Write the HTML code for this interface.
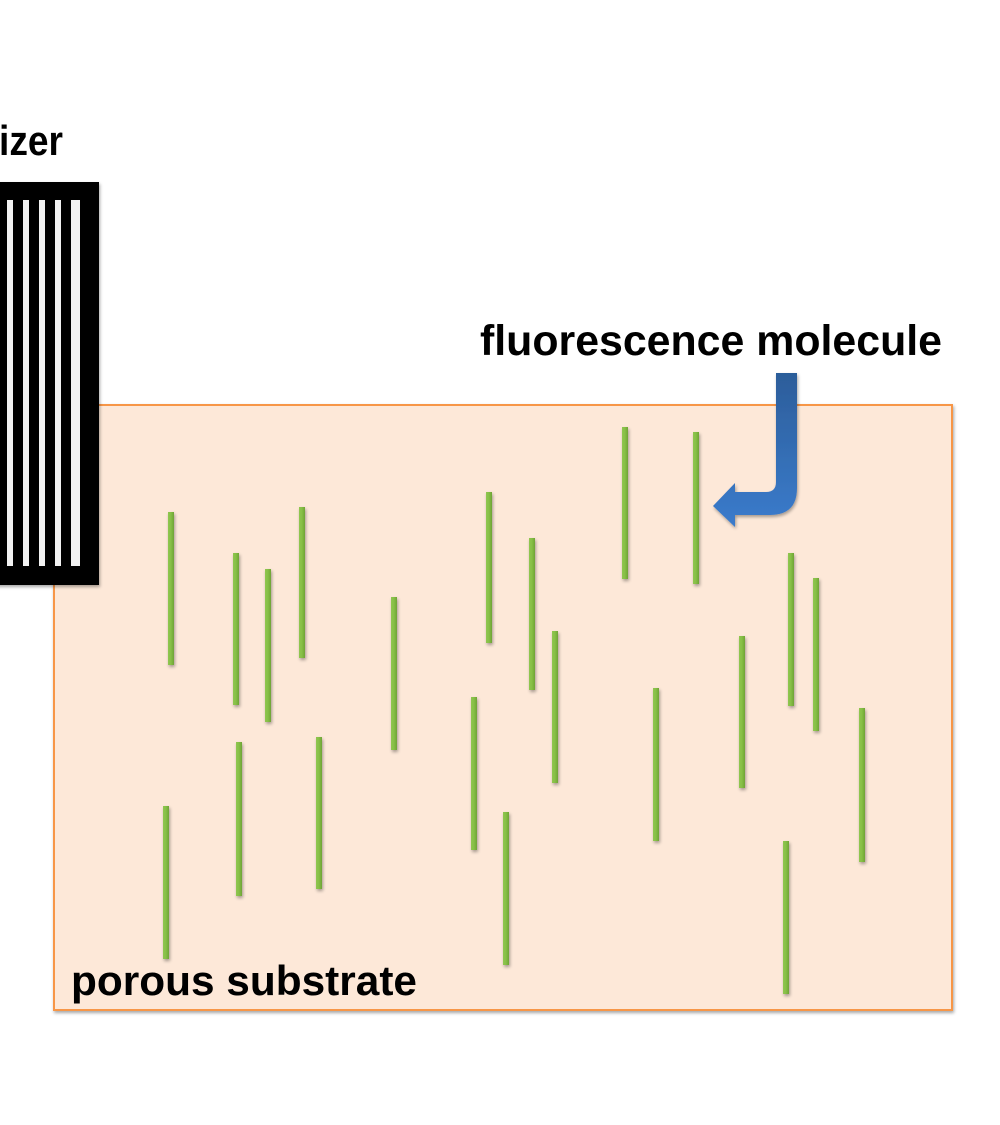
<!DOCTYPE html>
<html>
<head>
<meta charset="utf-8">
<style>
  html, body { margin: 0; padding: 0; background: #ffffff; }
  body { width: 1000px; height: 1125px; overflow: hidden; }
  svg { display: block; }
  text { font-family: "Liberation Sans", "DejaVu Sans", sans-serif; font-weight: bold; fill: #000; }
</style>
</head>
<body>
<svg width="1000" height="1125" viewBox="0 0 1000 1125" xmlns="http://www.w3.org/2000/svg">
  <defs>
    <linearGradient id="rod" x1="0" y1="0" x2="1" y2="0">
      <stop offset="0" stop-color="#8fc651"/>
      <stop offset="0.5" stop-color="#86bf45"/>
      <stop offset="1" stop-color="#6fa336"/>
    </linearGradient>
    <linearGradient id="arrowg" x1="0" y1="0" x2="0" y2="1">
      <stop offset="0" stop-color="#2c5d9a"/>
      <stop offset="0.6" stop-color="#3570b8"/>
      <stop offset="1" stop-color="#3b7bcc"/>
    </linearGradient>
    <filter id="sh" x="-20%" y="-20%" width="140%" height="140%">
      <feGaussianBlur in="SourceAlpha" stdDeviation="1.5"/>
      <feOffset dx="1" dy="2" result="b"/>
      <feComponentTransfer><feFuncA type="linear" slope="0.35"/></feComponentTransfer>
      <feMerge><feMergeNode/><feMergeNode in="SourceGraphic"/></feMerge>
    </filter>
  </defs>

  <!-- porous substrate -->
  <rect x="54" y="405" width="898" height="605" fill="#fde8d8" stroke="#f79646" stroke-width="2" filter="url(#sh)"/>

  <!-- rods -->
  <g fill="url(#rod)" filter="url(#sh)">
    <rect x="168" y="512" width="6" height="153"/>
    <rect x="233" y="553" width="6" height="152"/>
    <rect x="265" y="569" width="6" height="153"/>
    <rect x="299" y="507" width="6" height="151"/>
    <rect x="391" y="597" width="6" height="153"/>
    <rect x="486" y="492" width="6" height="151"/>
    <rect x="529" y="538" width="6" height="152"/>
    <rect x="552" y="631" width="6" height="152"/>
    <rect x="622" y="427" width="6" height="152"/>
    <rect x="693" y="432" width="6" height="152"/>
    <rect x="471" y="697" width="6" height="153"/>
    <rect x="653" y="688" width="6" height="153"/>
    <rect x="739" y="636" width="6" height="152"/>
    <rect x="788" y="553" width="6" height="153"/>
    <rect x="813" y="578" width="6" height="153"/>
    <rect x="859" y="708" width="6" height="154"/>
    <rect x="783" y="841" width="6" height="153"/>
    <rect x="163" y="806" width="6" height="153"/>
    <rect x="236" y="742" width="6" height="154"/>
    <rect x="316" y="737" width="6" height="152"/>
    <rect x="503" y="812" width="6" height="153"/>
  </g>

  <!-- polarizer -->
  <g filter="url(#sh)">
    <rect x="-10" y="182" width="109" height="403" fill="#000"/>
  </g>
  <g fill="#f2f2f2">
    <rect x="7" y="200" width="6" height="366"/>
    <rect x="23" y="200" width="6" height="366"/>
    <rect x="39" y="200" width="6" height="366"/>
    <rect x="55" y="200" width="6" height="366"/>
    <rect x="71" y="200" width="9" height="366"/>
  </g>

  <!-- arrow -->
  <path d="M776,373 L797,373 L797,488 Q797,515 770,515 L735,515 L735,527 L713,506 L735,483 L735,492 L766,492 Q776,492 776,482 Z"
        fill="url(#arrowg)" filter="url(#sh)"/>

  <!-- labels -->
  <text x="-1" y="155" font-size="42" textLength="64" lengthAdjust="spacingAndGlyphs">izer</text>
  <text x="480" y="355" font-size="43" textLength="462" lengthAdjust="spacingAndGlyphs">fluorescence molecule</text>
  <text x="71" y="995" font-size="42" textLength="346" lengthAdjust="spacingAndGlyphs">porous substrate</text>
</svg>
</body>
</html>
